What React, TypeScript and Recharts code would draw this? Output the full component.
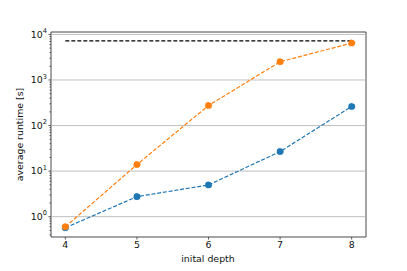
import { LineChart, Line, XAxis, YAxis, ReferenceLine, ReferenceArea } from "recharts";

const depths = [4, 5, 6, 7, 8];
const blueRuntime = [0.57, 2.75, 4.97, 26.8, 262];
const orangeRuntime = [0.6, 13.9, 275, 2510, 6460];
const timeoutRuntime = [7200, 7200, 7200, 7200, 7200];
const decadeTicks = [1, 10, 100, 1000, 10000];
const decadeExponents = ["0", "1", "2", "3", "4"];

const Y_MIN = 0.358;
const Y_MAX = 11300;
const FONT = "'DejaVu Sans', sans-serif";

const data = depths.map((depth, i) => ({
  depth,
  blue: blueRuntime[i],
  orange: orangeRuntime[i],
  timeout: timeoutRuntime[i],
}));

// major + minor log ticks inside the domain
const yTicks: number[] = [];
for (let e = -1; e <= 4; e++) {
  for (let m = 1; m <= 9; m++) {
    const v = m * Math.pow(10, e);
    if (v >= Y_MIN && v <= Y_MAX) yTicks.push(v);
  }
}

const YTick = ({ x, y, payload }: any) => {
  const idx = decadeTicks.findIndex((d) => Math.abs(d - payload.value) < 1e-9);
  const major = idx >= 0;
  return (
    <g>
      <line x1={x} x2={x - (major ? 2.6 : 1.5)} y1={y} y2={y} stroke="#222" strokeWidth={0.7} />
      {major && (
        <text x={x - 4} y={y + 3.3} textAnchor="end" fontSize={9.4} fontFamily={FONT} fill="#111">
          10
          <tspan dy={-4.5} fontSize={6.6}>
            {decadeExponents[idx]}
          </tspan>
        </text>
      )}
    </g>
  );
};

const dot = (color: string) => ({ r: 3.3, fill: color, stroke: color, strokeWidth: 0.5 });

export default function App() {
  return (
    <div style={{ position: "absolute", left: 0, top: 0, width: 407, height: 271, background: "#fff" }}>
      <style>{"body{margin:0}"}</style>
      <LineChart width={407} height={271} data={data} margin={{ top: 32, right: 41, left: 0, bottom: 0 }}>
        <XAxis
          dataKey="depth"
          type="number"
          domain={[3.8, 8.2]}
          ticks={depths}
          allowDataOverflow
          axisLine={false}
          tickSize={2.6}
          tickMargin={2}
          height={34}
          tickLine={{ stroke: "#222", strokeWidth: 0.7 }}
          tick={{ fontSize: 9.4, fontFamily: FONT, fill: "#111" }}
        />
        <YAxis
          type="number"
          scale="log"
          domain={[Y_MIN, Y_MAX]}
          allowDataOverflow
          ticks={yTicks}
          interval={0}
          width={51}
          axisLine={false}
          tickLine={false}
          tickSize={0}
          tickMargin={0}
          tick={<YTick />}
        />
        {decadeTicks.map((v) => (
          <ReferenceLine key={v} y={v} stroke="#b0b0b0" strokeWidth={0.8} />
        ))}
        <Line
          dataKey="timeout"
          stroke="#000"
          strokeWidth={1.2}
          strokeDasharray="4 2"
          dot={false}
          isAnimationActive={false}
        />
        <Line
          dataKey="blue"
          stroke="#1f77b4"
          strokeWidth={1.2}
          strokeDasharray="4 1.8"
          dot={dot("#1f77b4")}
          activeDot={false}
          isAnimationActive={false}
        />
        <Line
          dataKey="orange"
          stroke="#ff7f0e"
          strokeWidth={1.2}
          strokeDasharray="4 1.8"
          dot={dot("#ff7f0e")}
          activeDot={false}
          isAnimationActive={false}
        />
        <ReferenceArea x1={3.8} x2={8.2} y1={Y_MIN} y2={Y_MAX} fill="none" stroke="#333" strokeWidth={0.9} ifOverflow="visible" />
      </LineChart>
      <svg width={407} height={271} style={{ position: "absolute", left: 0, top: 0, pointerEvents: "none" }}>
        <text x={208} y={262} textAnchor="middle" fontSize={9.4} fontFamily={FONT} fill="#111">
          inital depth
        </text>
        <text
          x={0}
          y={0}
          transform="translate(23,134.5) rotate(-90)"
          textAnchor="middle"
          fontSize={9.4}
          fontFamily={FONT}
          fill="#111"
        >
          average runtime [s]
        </text>
      </svg>
    </div>
  );
}
